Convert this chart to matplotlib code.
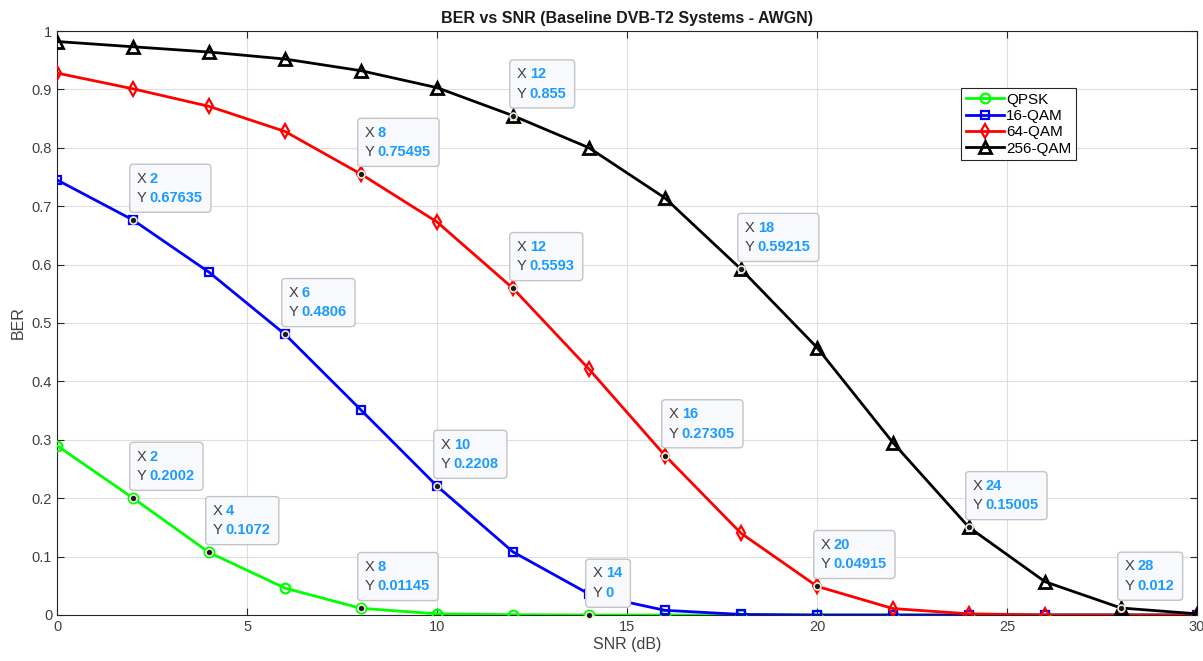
import matplotlib
matplotlib.use("Agg")
import matplotlib.pyplot as plt
from matplotlib.ticker import FuncFormatter

plt.rcParams["font.family"] = ["Liberation Sans", "DejaVu Sans"]

snr = [0, 2, 4, 6, 8, 10, 12, 14, 16, 18, 20, 22, 24, 26, 28, 30]

ber_qpsk = [0.29, 0.2002, 0.1072, 0.046, 0.01145, 0.002, 0.0005, 0, 0, 0, 0, 0, 0, 0, 0, 0]
ber_16qam = [0.745, 0.67635, 0.587, 0.4806, 0.351, 0.2208, 0.108, 0.036, 0.008, 0.001,
             0, 0, 0, 0, 0, 0]
ber_64qam = [0.928, 0.901, 0.871, 0.828, 0.75495, 0.673, 0.5593, 0.421, 0.27305, 0.14,
             0.04915, 0.011, 0.002, 0, 0, 0]
ber_256qam = [0.982, 0.973, 0.964, 0.952, 0.932, 0.903, 0.855, 0.80, 0.714, 0.59215,
              0.458, 0.295, 0.15005, 0.057, 0.012, 0.002]

labels = ["QPSK", "16-QAM", "64-QAM", "256-QAM"]

# data tips shown on the figure: (series index, snr)
tips = [
    (0, 2), (0, 4), (0, 8), (0, 14),
    (1, 2), (1, 6), (1, 10),
    (2, 8), (2, 12), (2, 16), (2, 20),
    (3, 12), (3, 18), (3, 24), (3, 28),
]

series = [ber_qpsk, ber_16qam, ber_64qam, ber_256qam]
colors = ["#00ff00", "#0000ff", "#ff0000", "#000000"]
markers = ["o", "s", "d", "^"]
msizes = [7, 6, 7, 8]
mews = [1.6, 1.6, 1.6, 2.0]

fig = plt.figure(figsize=(12.03, 6.61), dpi=100)
ax = fig.add_axes([0.0474, 0.0696, 0.9476, 0.8835])

for ys, lab, c, m, ms, mw in zip(series, labels, colors, markers, msizes, mews):
    ax.plot(snr, ys, color=c, lw=2, marker=m, ms=ms, mfc="none", mec=c, mew=mw,
            label=lab, zorder=3)

ax.set_xlim(0, 30)
ax.set_ylim(0, 1)
ax.set_xticks(range(0, 31, 5))
ax.set_yticks([i / 10 for i in range(11)])
ax.yaxis.set_major_formatter(FuncFormatter(lambda v, p: f"{v:g}"))
ax.grid(True, color="#dedede", lw=0.8)
ax.set_axisbelow(True)
ax.tick_params(direction="in", length=5, width=0.8, colors="#262626", labelsize=10.5,
               top=True, right=True, labelcolor="#404040")
for sp in ax.spines.values():
    sp.set_color("#262626")
    sp.set_linewidth(0.8)

ax.set_title("BER vs SNR (Baseline DVB-T2 Systems - AWGN)", fontsize=11.5,
             fontweight="bold", color="#1a1a1a", pad=6)
ax.set_xlabel("SNR (dB)", fontsize=11.5, color="#404040", labelpad=2)
ax.set_ylabel("BER", fontsize=11.5, color="#404040", labelpad=4)

leg = ax.legend(loc="upper left", bbox_to_anchor=(0.793, 0.902), fontsize=11,
                handlelength=2.5, handletextpad=0.15, labelspacing=0.15,
                borderpad=0.3, borderaxespad=0, fancybox=False, framealpha=1)
leg.get_frame().set_edgecolor("#262626")
leg.get_frame().set_linewidth(0.8)

# data tips
for si, xv in tips:
    yv = series[si][snr.index(xv)]
    xs = f"{xv:g}"
    ys = f"{yv:g}"
    off = (4, 15)
    ax.annotate(f"X {xs}\nY {ys}", xy=(xv, yv), xytext=off, textcoords="offset pixels",
                ha="left", va="bottom", fontsize=10.5, fontweight="bold",
                linespacing=1.5, color="none", zorder=6,
                bbox=dict(boxstyle="round,pad=0.5,rounding_size=0.25",
                          fc="#f8f9fc", ec="#c4c4c4", lw=1))
    lab = ax.annotate("X\nY", xy=(xv, yv), xytext=off, textcoords="offset pixels",
                      ha="left", va="bottom", fontsize=10.5, color="#404040",
                      linespacing=1.5, zorder=7)
    ax.annotate(f"{xs}\n{ys}", xy=(1, 0), xycoords=lab, xytext=(3, 0),
                textcoords="offset pixels", ha="left", va="bottom", fontsize=10.5,
                fontweight="bold", color="#1b9bff", linespacing=1.5, zorder=7)
    ax.plot(xv, yv, "o", ms=5, mfc="#1a1a1a", mec="#eeeedd", mew=1.2, zorder=8,
            clip_on=False)

fig.savefig("out.png", dpi=100, facecolor="white")
